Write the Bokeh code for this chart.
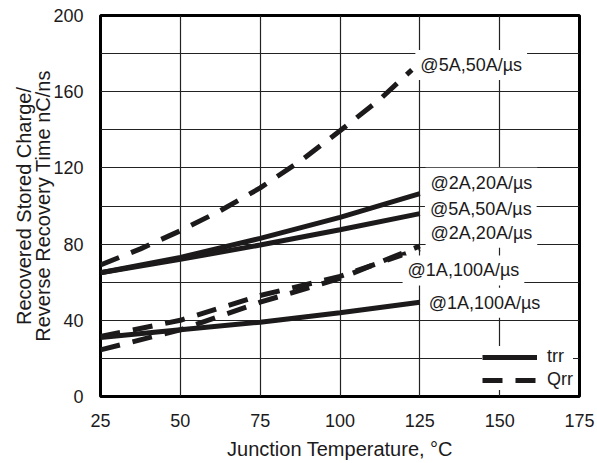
from bokeh.plotting import figure
from bokeh.models import Label, Legend, LegendItem, FixedTicker, Range1d
from bokeh.embed import file_html
from bokeh.resources import INLINE

# ---- data ----
temps = [25, 50, 75, 100, 125]
temps_q5 = [25, 37.5, 50, 62.5, 75, 87.5, 100, 112.5, 122.5]

qrr_5a_50 = [69, 77.5, 87, 97.5, 109.5, 123.5, 139.5, 156, 171.5]
trr_2a_20 = [65, 73, 83, 94, 106.5]
trr_5a_50 = [65, 72, 79.5, 87.5, 96]
qrr_2a_20 = [24.5, 35, 49.5, 62, 79]
qrr_1a_100 = [31.5, 40, 53, 63, 77.5]
trr_1a_100 = [31, 35, 39, 44, 49.5]

x_ticks = [25, 50, 75, 100, 125, 150, 175]
y_ticks = [0, 40, 80, 120, 160, 200]
y_grid = [0, 20, 40, 60, 80, 100, 120, 140, 160, 180, 200]

labels = [
    ("@5A,50A/\u00b5s", 123.6, 174.0),
    ("@2A,20A/\u00b5s", 126.8, 112.2),
    ("@5A,50A/\u00b5s", 126.6, 98.5),
    ("@2A,20A/\u00b5s", 126.8, 86.0),
    ("@1A,100A/\u00b5s", 119.6, 66.2),
    ("@1A,100A/\u00b5s", 126.2, 49.2),
]

FONT = "Liberation Sans"
INK = "#1c1a1b"

p = figure(width=597, height=463, output_backend="svg", toolbar_location=None,
           x_range=Range1d(25, 175), y_range=Range1d(0, 200),
           min_border_left=100, min_border_right=18, min_border_top=15,
           min_border_bottom=67)

p.outline_line_color = "black"
p.outline_line_width = 3

for ax in (p.xaxis[0], p.yaxis[0]):
    ax.axis_line_color = None
    ax.major_tick_line_color = None
    ax.minor_tick_line_color = None
    ax.major_label_text_font = FONT
    ax.major_label_text_font_size = "18px"
    ax.major_label_text_color = INK
    ax.axis_label_text_font = FONT
    ax.axis_label_text_font_size = "20px"
    ax.axis_label_text_font_style = "normal"
    ax.axis_label_text_color = INK

p.xaxis[0].ticker = FixedTicker(ticks=x_ticks)
p.yaxis[0].ticker = FixedTicker(ticks=y_ticks)
p.xaxis[0].major_label_standoff = 11
p.yaxis[0].major_label_standoff = 11
p.xaxis[0].axis_label = "Junction Temperature, \u00b0C"
p.xaxis[0].axis_label_standoff = 8
p.yaxis[0].axis_label = "Recovered Stored Charge/\nReverse Recovery Time nC/ns"
p.yaxis[0].axis_label_standoff = -4
p.yaxis[0].axis_label_text_line_height = 0.9

p.xgrid[0].ticker = FixedTicker(ticks=x_ticks)
p.ygrid[0].ticker = FixedTicker(ticks=y_grid)
for g in (p.xgrid[0], p.ygrid[0]):
    g.grid_line_color = "#222222"
    g.grid_line_width = 1.2
    g.grid_line_alpha = 1.0

LW = 5
DASH = "20 13"

r_q5 = p.line(temps_q5, qrr_5a_50, line_color=INK, line_width=LW, line_dash=DASH)
r_t2 = p.line(temps, trr_2a_20, line_color=INK, line_width=LW)
r_t5 = p.line(temps, trr_5a_50, line_color=INK, line_width=LW)
r_q2 = p.line(temps, qrr_2a_20, line_color=INK, line_width=LW, line_dash=DASH)
r_q1 = p.line(temps, qrr_1a_100, line_color=INK, line_width=LW, line_dash=DASH)
r_t1 = p.line(temps, trr_1a_100, line_color=INK, line_width=LW)

for text, x, y in labels:
    p.add_layout(Label(x=x, y=y, text=text, text_font=FONT, text_font_size="18px",
                       text_color=INK, text_baseline="middle", text_align="left",
                       background_fill_color="white", padding=5))

legend = Legend(items=[LegendItem(label="trr", renderers=[r_t2]),
                       LegendItem(label="Qrr", renderers=[r_q5])],
                location="bottom_right", orientation="vertical",
                glyph_width=55, glyph_height=20, label_height=20,
                label_standoff=10, spacing=2, padding=4, margin=6,
                label_text_font=FONT, label_text_font_size="18px",
                label_text_color=INK,
                border_line_color=None, background_fill_color="white",
                background_fill_alpha=1.0)
p.add_layout(legend)

open("out.html", "w").write(file_html(p, INLINE))
